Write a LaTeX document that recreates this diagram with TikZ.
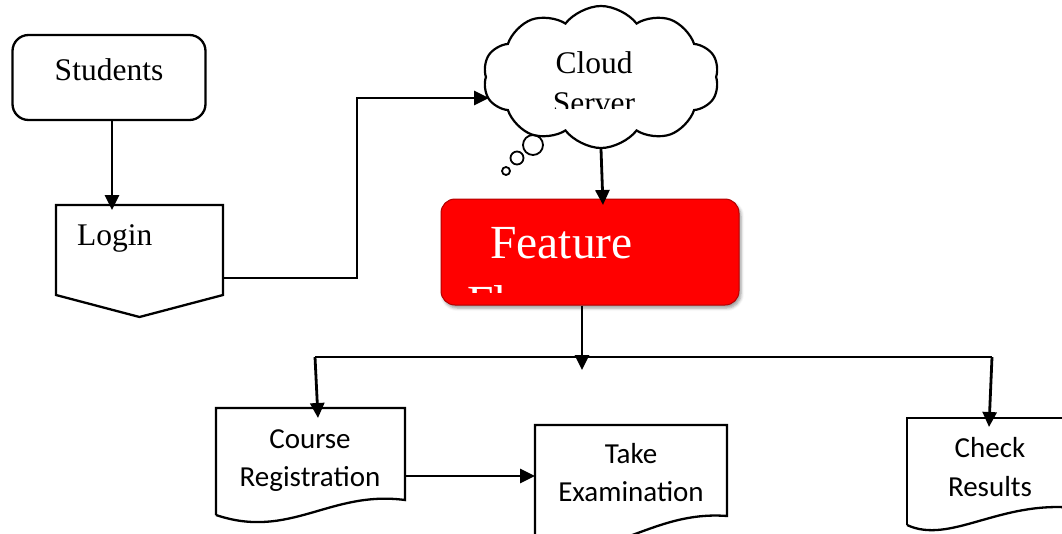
\documentclass[tikz,border=0pt]{standalone}
\usepackage{fontspec}
\setmainfont{Liberation Serif}
\newfontfamily\calibri{Carlito}
\usetikzlibrary{arrows.meta,shapes.symbols,shadows.blur,calc}

\begin{document}
\begin{tikzpicture}[x=1pt,y=-1pt,
  box/.style={draw,line width=2.3pt},
  conn/.style={line width=2.8pt},
  arr/.style={conn,-{Triangle[length=15pt,width=14pt]}},
  serif/.style={inner sep=0pt,font=\fontsize{31.5}{36}\selectfont},
  sans/.style={inner sep=0pt,font=\calibri\fontsize{29}{34}\selectfont},
  frame/.style={inner sep=0pt,outer sep=0pt},
]
\useasboundingbox (0,0) rectangle (1062,533);

% Students
\node[box,rounded corners=16pt,minimum width=193pt,minimum height=85pt] (students) at (109,77.5) {};
\node[serif,anchor=base] (studentsT) at (109,80) {Students};

% Login (off-page connector)
\node[frame,minimum width=167pt,minimum height=112pt] (login) at (139.5,261) {};
\draw[box,line join=miter] (login.north west) -- (login.north east) -- ([yshift=22pt]login.south east)
  -- (login.south) -- ([yshift=22pt]login.south west) -- cycle;
\node[serif,anchor=base west] (loginT) at (77,245) {Login};

% Cloud server
\node[cloud,draw,line width=2.2pt,cloud puffs=10,cloud puff arc=105,aspect=1.65,
      minimum width=236pt,minimum height=142pt] (cloud) at (601,77) {};
\draw[line width=1.8pt] (533,145) circle[radius=10pt] (517,158) circle[radius=6.5pt] (506,171) circle[radius=4pt];
\node[serif,anchor=base] (cloudT) at (594,73) {Cloud};
\begin{scope}
  \clip (480,0) rectangle (720,108);
  \node[serif,anchor=base] (serverT) at (594,113) {Server};
\end{scope}

% Feature flow
\node[fill=red,draw=red!70!black,line width=1pt,rounded corners=14pt,minimum width=298pt,minimum height=106pt,
      blur shadow={shadow xshift=2pt,shadow yshift=-3pt,shadow blur radius=3pt}] (feature) at (590,252) {};
\begin{scope}
  \clip (441,199) rectangle (739,292);
  \node[inner sep=0pt,anchor=base west,text=white,font=\fontsize{47.5}{56}\selectfont] (featT) at (490,258) {Feature};
  \node[inner sep=0pt,anchor=base west,text=white,font=\fontsize{47.5}{56}\selectfont] (flowT) at (467,318) {Flow};
\end{scope}

% Course registration
\node[frame,minimum width=189pt,minimum height=110pt] (cr) at (310.5,463) {};
\draw[box] (cr.south west |- 0,515) -- (cr.north west) -- (cr.north east) -- (405,500)
  .. controls (330,490) and (290,540) .. (216,515);
\node[sans,anchor=base] (crT1) at (310,448) {Course};
\node[sans,anchor=base] (crT2) at (310,486) {Registration};

% Take examination
\node[frame,minimum width=192pt,minimum height=120pt] (te) at (631,485) {};
\draw[box] (535,545) -- (te.north west) -- (te.north east) -- (727,516)
  .. controls (650,510) and (610,565) .. (535,545);
\node[sans,anchor=base] (teT1) at (631,463) {Take};
\node[sans,anchor=base] (teT2) at (631,501) {Examination};

% Check results
\node[frame,minimum width=170pt,minimum height=110pt] (ch) at (992,473) {};
\draw[box] (907,525) -- (ch.north west) -- (1080,418);
\draw[box] (907,525) .. controls (950,545) and (1000,500) .. (1075,508);
\node[sans,anchor=base] (chT1) at (990,457) {Check};
\node[sans,anchor=base] (chT2) at (990,496) {Results};

% Connectors
\coordinate (sl) at (112,210);
\draw[arr] (students.south -| sl) -- (sl);
\coordinate (lc) at (357,278);
\coordinate (cin) at (489,98);
\draw[arr] (login.east |- lc) -- (lc) |- (cin);
\coordinate (cf) at (603,205);
\draw[arr] (cloud.south) -- (cf);
\coordinate (fb) at (582,370);
\draw[arr] (feature.south -| fb) -- (fb);
\coordinate (busl) at (315,357);
\coordinate (busr) at (992,357);
\draw[conn] (busl) -- (busr);
\coordinate (crin) at (318,418);
\draw[arr] (busl) -- (crin);
\coordinate (chin) at (989,427);
\draw[arr] (busr) -- (chin);
\coordinate (tein) at (535,476);
\draw[arr] (cr.east |- tein) -- (tein);
\end{tikzpicture}
\end{document}
